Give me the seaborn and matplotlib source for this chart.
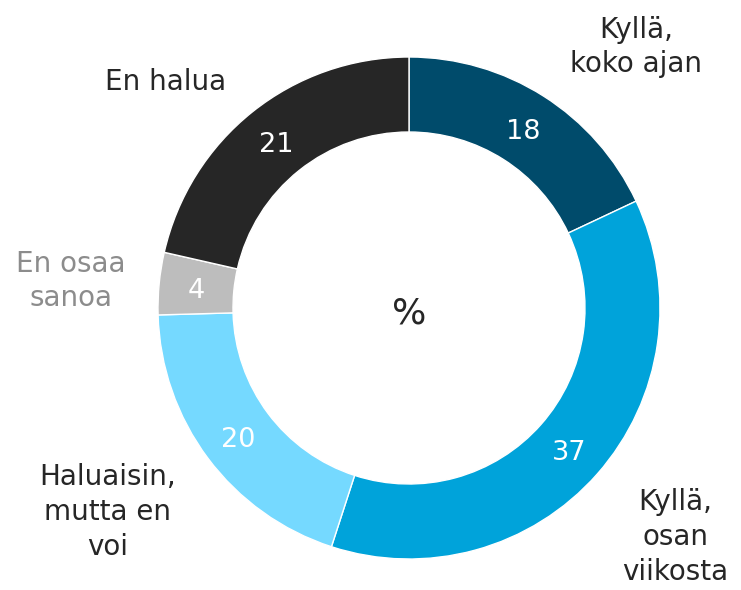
import numpy as np
import pandas as pd
import seaborn as sns
import matplotlib.pyplot as plt

categories = ['Kyllä,\nkoko ajan', 'Kyllä,\nosan\nviikosta', 'Haluaisin,\nmutta en\nvoi',
              'En osaa\nsanoa', 'En halua']
values = [18, 37, 19.56, 4, 21.44]
labels = ['18', '37', '20', '4', '21']
colors = ['#004B6B', '#00A3DA', '#75D9FF', '#BDBDBD', '#262626']
label_colors = ['#262626', '#262626', '#262626', '#8C8C8C', '#262626']
# label centres in pixel coordinates (x, y from top)
label_pos = [(636, 47), (675, 537), (108, 512), (71, 281), (166, 82)]

sns.set_style('white')
plt.rcParams['font.family'] = ['DejaVu Sans']

W, H = 741, 590
fig = plt.figure(figsize=(W / 100, H / 100), dpi=100)
ax = fig.add_axes([0, 0, 1, 1])

cx, cy, r_out, r_in = 409, H - 308, 251, 176
wedges, _ = ax.pie(
    values, colors=colors, startangle=90, counterclock=False,
    center=(cx, cy), radius=r_out,
    wedgeprops=dict(width=r_out - r_in, edgecolor='white', linewidth=1))

# value labels in the middle of the ring
r_mid = (r_out + r_in) / 2
for w, lab in zip(wedges, labels):
    ang = np.deg2rad((w.theta1 + w.theta2) / 2)
    ax.text(cx + r_mid * np.cos(ang), cy + r_mid * np.sin(ang) - 4, lab,
            ha='center', va='center', fontsize=19.5, color='white')

for (x, y), lab, c in zip(label_pos, categories, label_colors):
    ax.text(x, H - y, lab, ha='center', va='center', fontsize=20,
            color=c, linespacing=1.3)

ax.text(cx, cy - 5, '%', ha='center', va='center', fontsize=26, color='#262626')

ax.set_xlim(0, W)
ax.set_ylim(0, H)
ax.set_aspect('equal')
ax.axis('off')

plt.savefig('out.png', dpi=100)
